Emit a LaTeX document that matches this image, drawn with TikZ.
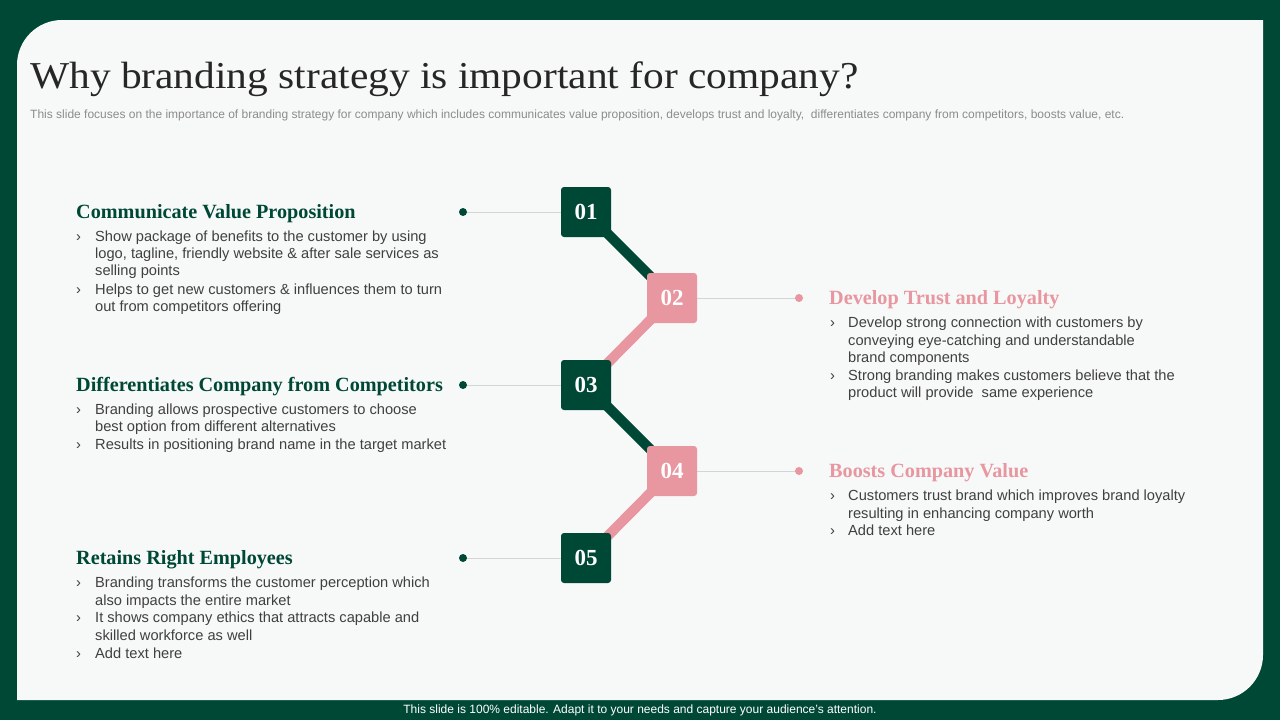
\documentclass[tikz,border=0pt]{standalone}
\usepackage{fontspec}
\setmainfont{Liberation Serif}
\setsansfont{Liberation Sans}
\newfontfamily\titlefont[FakeStretch=1.09]{Liberation Serif}
\definecolor{dgreen}{HTML}{004836}
\definecolor{pinkc}{HTML}{E8969F}
\definecolor{panel}{HTML}{F7F8F8}
\definecolor{bodyc}{HTML}{404040}
\definecolor{subc}{HTML}{8C8C8C}
\definecolor{titlec}{HTML}{262626}
\definecolor{linec}{HTML}{D4D4D4}
\pgfdeclarelayer{bg}
\pgfdeclarelayer{lines}
\pgfsetlayers{bg,lines,main}
\begin{document}
\begin{tikzpicture}[x=1pt,y=-1pt,
  numbox/.style={minimum size=50pt, inner sep=0pt, rounded corners=3pt, text=white,
    font=\fontsize{23}{23}\selectfont\bfseries},
  gbox/.style={numbox, fill=dgreen},
  pbox/.style={numbox, fill=pinkc},
  head/.style={anchor=base west, inner sep=0pt, font=\fontsize{20.2}{20.2}\selectfont\bfseries},
  ghead/.style={head, text=dgreen},
  phead/.style={head, text=pinkc},
  body/.style={anchor=base west, inner sep=0pt, text=bodyc, font=\sffamily\fontsize{14.65}{14.65}\selectfont},
  gdot/.style={circle, minimum size=8pt, inner sep=0pt, fill=dgreen},
  pdot/.style={circle, minimum size=8pt, inner sep=0pt, fill=pinkc},
  thin/.style={draw=linec, line width=1pt},
  thick/.style={line width=10pt}
]
\useasboundingbox (0,0) rectangle (1280,720);
\begin{pgfonlayer}{bg}
\fill[dgreen] (0,0) rectangle (1280,720);
\fill[panel] (17,700) -- (17,65) .. controls (17,40.2) and (37.2,20) .. (62,20)
  -- (1263,20) -- (1263,655) .. controls (1263,679.8) and (1242.8,700) .. (1218,700) -- cycle;
\end{pgfonlayer}

% title and subtitle
\node[anchor=base west, inner sep=0pt, text=titlec, font=\titlefont\fontsize{38}{38}\selectfont] (title) at (30,88)
  {Why branding strategy is important for company?};
\node[anchor=base west, inner sep=0pt, text=subc, font=\sffamily\fontsize{12}{12}\selectfont] (sub) at (30,118)
  {This slide focuses on the importance of branding strategy for company which includes communicates value proposition, develops trust and loyalty,\ \ differentiates company from competitors, boosts value, etc.};

% number boxes
\node[gbox] (b1) at (586,212) {01};
\node[pbox] (b2) at (672,298) {02};
\node[gbox] (b3) at (586,385) {03};
\node[pbox] (b4) at (672,471) {04};
\node[gbox] (b5) at (586,558) {05};

\begin{pgfonlayer}{lines}
\draw[thick, dgreen] (b1.center) -- (b2.center);
\draw[thick, pinkc] (b2.center) -- (b3.center);
\draw[thick, dgreen] (b3.center) -- (b4.center);
\draw[thick, pinkc] (b4.center) -- (b5.center);
\end{pgfonlayer}

% dots and thin lines
\node[gdot] (d1) at (463,212) {};
\node[gdot] (d3) at (463,385) {};
\node[gdot] (d5) at (463,558) {};
\node[pdot] (d2) at (799,298) {};
\node[pdot] (d4) at (799,471) {};
\begin{pgfonlayer}{lines}
\draw[thin] (d1.center) -- (b1.west);
\draw[thin] (d3.center) -- (b3.west);
\draw[thin] (d5.center) -- (b5.west);
\draw[thin] (b2.east) -- (d2.center);
\draw[thin] (b4.east) -- (d4.center);
\end{pgfonlayer}

% block 1
\node[ghead] (h1) at (76,218) {Communicate Value Proposition};
\node[body] (k1a) at (76,241) {›};
\node[body] (t1a) at (95,241) {Show package of benefits to the customer by using};
\node[body] (t1b) at (95,258) {logo, tagline, friendly website \& after sale services as};
\node[body] (t1c) at (95,275) {selling points};
\node[body] (k1b) at (76,294) {›};
\node[body] (t1d) at (95,294) {Helps to get new customers \& influences them to turn};
\node[body] (t1e) at (95,311) {out from competitors offering};

% block 3
\node[ghead] (h3) at (76,391) {Differentiates Company from Competitors};
\node[body] (k3a) at (76,414) {›};
\node[body] (t3a) at (95,414) {Branding allows prospective customers to choose};
\node[body] (t3b) at (95,431) {best option from different alternatives};
\node[body] (k3b) at (76,449) {›};
\node[body] (t3c) at (95,449) {Results in positioning brand name in the target market};

% block 5
\node[ghead] (h5) at (76,564) {Retains Right Employees};
\node[body] (k5a) at (76,587) {›};
\node[body] (t5a) at (95,587) {Branding transforms the customer perception which};
\node[body] (t5b) at (95,605) {also impacts the entire market};
\node[body] (k5b) at (76,622) {›};
\node[body] (t5c) at (95,622) {It shows company ethics that attracts capable and};
\node[body] (t5d) at (95,640) {skilled workforce as well};
\node[body] (k5c) at (76,658) {›};
\node[body] (t5e) at (95,658) {Add text here};

% block 2
\node[phead] (h2) at (829,304) {Develop Trust and Loyalty};
\node[body] (k2a) at (830,327) {›};
\node[body] (t2a) at (848,327) {Develop strong connection with customers by};
\node[body] (t2b) at (848,345) {conveying eye-catching and understandable};
\node[body] (t2c) at (848,362) {brand components};
\node[body] (k2b) at (830,380) {›};
\node[body] (t2d) at (848,380) {Strong branding makes customers believe that the};
\node[body] (t2e) at (848,397) {product will provide\ \ same experience};

% block 4
\node[phead] (h4) at (829,477) {Boosts Company Value};
\node[body] (k4a) at (830,500) {›};
\node[body] (t4a) at (848,500) {Customers trust brand which improves brand loyalty};
\node[body] (t4b) at (848,518) {resulting in enhancing company worth};
\node[body] (k4b) at (830,535) {›};
\node[body] (t4c) at (848,535) {Add text here};

% footer
\node[anchor=base, inner sep=0pt, text=white, font=\sffamily\fontsize{12}{12}\selectfont] (foot) at (640,713)
  {This slide is 100\% editable. Adapt it to your needs and capture your audience's attention.};
\end{tikzpicture}
\end{document}
